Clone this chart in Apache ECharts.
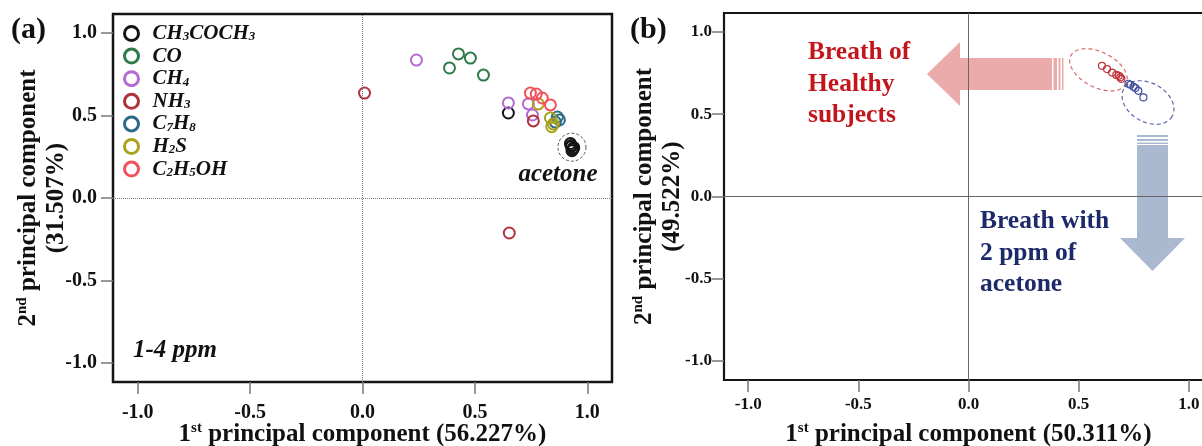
<!DOCTYPE html>
<html><head><meta charset="utf-8">
<script src="https://cdn.jsdelivr.net/npm/echarts@6/dist/echarts.min.js"></script>
<style>html,body{margin:0;padding:0;background:#fff}#c{width:1202px;height:446px}</style>
</head><body><div id="c"></div>
<script>
// ---------- data ----------
const tickValues = [-1.0, -0.5, 0.0, 0.5, 1.0];
const gasNames = ['CH3COCH3', 'CO', 'CH4', 'NH3', 'C7H8', 'H2S', 'C2H5OH'];
const gasLabels = ['CH{s|3}COCH{s|3}', 'CO', 'CH{s|4}', 'NH{s|3}', 'C{s|7}H{s|8}', 'H{s|2}S', 'C{s|2}H{s|5}OH'];
const acetoneCluster = [[0.925, 0.330], [0.930, 0.312], [0.936, 0.296], [0.928, 0.318], [0.940, 0.305], [0.932, 0.287]];
const ch3coch3 = [[0.649, 0.515]].concat(acetoneCluster);
const co = [[0.427, 0.873], [0.387, 0.788], [0.480, 0.848], [0.538, 0.745]];
const ch4 = [[0.240, 0.836], [0.649, 0.576], [0.738, 0.570], [0.756, 0.503]];
const nh3 = [[0.009, 0.636], [0.653, -0.212], [0.760, 0.467]];
const c7h8 = [[0.867, 0.491], [0.876, 0.473], [0.858, 0.460]];
const h2s = [[0.782, 0.570], [0.836, 0.485], [0.849, 0.448], [0.842, 0.432]];
const c2h5oh = [[0.747, 0.636], [0.773, 0.630], [0.800, 0.606], [0.836, 0.564]];
const gasData = [ch3coch3, co, ch4, nh3, c7h8, h2s, c2h5oh];
const gasColors = ['#151515', '#2f7a4a', '#b46ad0', '#b1323f', '#2a6a88', '#a9a21c', '#f2515c'];

const healthy = [[0.606, 0.794], [0.629, 0.774], [0.652, 0.753], [0.671, 0.739], [0.682, 0.733], [0.689, 0.724], [0.694, 0.715]];
const acetone2ppm = [[0.726, 0.685], [0.735, 0.679], [0.749, 0.667], [0.758, 0.659], [0.771, 0.642], [0.794, 0.602]];
// confidence ellipses: [centerX, centerY, semiMajor, semiMinor (x-axis units), tilt deg]
const healthyEllipse = [0.590, 0.770, 0.141, 0.080, 27];
const acetoneEllipse = [0.815, 0.571, 0.126, 0.088, 30];

// ---------- chart ----------
const serif = '"Liberation Serif","Times New Roman",serif';
const chart = echarts.init(document.getElementById('c'));
const clusterCenter = [
  acetoneCluster.reduce((s, p) => s + p[0], 0) / acetoneCluster.length,
  acetoneCluster.reduce((s, p) => s + p[1], 0) / acetoneCluster.length
];

const titleRich = {
  t: { fontFamily: serif, fontWeight: 'bold', fontSize: 25, color: '#111', lineHeight: 28 },
  sup: { fontFamily: serif, fontWeight: 'bold', fontSize: 15, color: '#111', lineHeight: 15, verticalAlign: 'top' }
};

function xAxisCfg(idx, name, fs, margin, gap) {
  return {
    type: 'value', gridIndex: idx, min: -1.11, max: 1.11,
    splitLine: { show: false }, axisLine: { show: false, onZero: false },
    axisTick: { show: true, customValues: tickValues, length: 12, lineStyle: { color: '#777', width: 1.5 } },
    axisLabel: { customValues: tickValues, formatter: v => v.toFixed(1), fontFamily: serif, fontWeight: 'bold', fontSize: fs, color: '#111', margin: margin },
    name: name, nameLocation: 'middle', nameGap: gap, nameMoveOverlap: false,
    nameTextStyle: { rich: titleRich }
  };
}
function yAxisCfg(idx, name, fs, margin, gap) {
  return {
    type: 'value', gridIndex: idx, min: -1.115, max: 1.115,
    splitLine: { show: false }, axisLine: { show: false, onZero: false },
    axisTick: { show: true, customValues: tickValues, length: 12, lineStyle: { color: '#777', width: 1.5 } },
    axisLabel: { customValues: tickValues, formatter: v => v.toFixed(1), fontFamily: serif, fontWeight: 'bold', fontSize: fs, color: '#111', margin: margin },
    name: name, nameLocation: 'middle', nameGap: gap, nameRotate: 90, nameMoveOverlap: false,
    nameTextStyle: { rich: titleRich }
  };
}

const series = gasNames.map((n, i) => ({
  name: n, type: 'scatter', xAxisIndex: 0, yAxisIndex: 0,
  data: gasData[i], symbol: 'circle', symbolSize: 11,
  itemStyle: { color: 'rgba(0,0,0,0)', borderColor: gasColors[i], borderWidth: 2, opacity: 1 },
  emphasis: { disabled: true }
}));
series[0].markLine = {
  silent: true, symbol: 'none', label: { show: false },
  lineStyle: { type: 'dotted', color: '#777', width: 1 },
  data: [{ xAxis: 0 }, { yAxis: 0 }]
};
series.push({
  name: 'cluster', type: 'scatter', xAxisIndex: 0, yAxisIndex: 0,
  data: [clusterCenter], symbol: 'circle', symbolSize: 28,
  itemStyle: { color: 'rgba(0,0,0,0)', borderColor: '#555', borderWidth: 1, borderType: [3, 2], opacity: 1 },
  label: { show: true, position: 'bottom', distance: 0, offset: [-14, 0], formatter: 'acetone',
    fontFamily: serif, fontStyle: 'italic', fontWeight: 'bold', fontSize: 25, color: '#111' },
  emphasis: { disabled: true }
});
series.push({
  name: 'healthy', type: 'scatter', xAxisIndex: 1, yAxisIndex: 1, data: healthy,
  symbol: 'circle', symbolSize: 7,
  itemStyle: { color: 'rgba(0,0,0,0)', borderColor: '#c03038', borderWidth: 1.2, opacity: 1 },
  markLine: { silent: true, symbol: 'none', label: { show: false }, lineStyle: { type: 'solid', color: '#666', width: 1 },
    data: [{ xAxis: 0 }, { yAxis: 0 }] },
  emphasis: { disabled: true }, z: 5
});
series.push({
  name: 'acetone2ppm', type: 'scatter', xAxisIndex: 1, yAxisIndex: 1, data: acetone2ppm,
  symbol: 'circle', symbolSize: 7,
  itemStyle: { color: 'rgba(0,0,0,0)', borderColor: '#3c4e9c', borderWidth: 1.2, opacity: 1 },
  emphasis: { disabled: true }, z: 5
});
series.push({
  name: 'ellipses', type: 'custom', xAxisIndex: 1, yAxisIndex: 1,
  data: [
    { value: healthyEllipse, itemStyle: { color: '#d86a6a' } },
    { value: acetoneEllipse, itemStyle: { color: '#5a66a8' } }
  ],
  renderItem(params, api) {
    const c = api.coord([api.value(0), api.value(1)]);
    const s = api.size([1, 0])[0];
    const a = api.value(2) * s, b = api.value(3) * s, th = api.value(4) * Math.PI / 180;
    const pts = [];
    for (let k = 0; k < 90; k++) {
      const t = k / 90 * 2 * Math.PI;
      pts.push([c[0] + a * Math.cos(t) * Math.cos(th) - b * Math.sin(t) * Math.sin(th),
                c[1] + a * Math.cos(t) * Math.sin(th) + b * Math.sin(t) * Math.cos(th)]);
    }
    return { type: 'polygon', shape: { points: pts }, style: { fill: 'none', stroke: api.visual('color'), lineWidth: 1.2, lineDash: [4, 3] } };
  },
  silent: true, z: 4
});

const pink = 'rgba(230,150,150,0.8)';
const steel = 'rgba(150,168,196,0.8)';

chart.setOption({
  animation: false,
  backgroundColor: '#fff',
  grid: [
    { left: 113, top: 14, width: 499, height: 368, outerBoundsMode: 'none', containLabel: false, show: true, borderColor: '#151515', borderWidth: 2.5, backgroundColor: 'transparent' },
    { left: 724, top: 13, width: 489, height: 367, outerBoundsMode: 'none', containLabel: false, show: true, borderColor: '#151515', borderWidth: 2.2, backgroundColor: 'transparent' }
  ],
  xAxis: [
    xAxisCfg(0, '{t|1}{sup|st}{t| principal component (56.227%)}', 20, 21, 39),
    xAxisCfg(1, '{t|1}{sup|st}{t| principal component (50.311%)}', 17, 16, 41)
  ],
  yAxis: [
    yAxisCfg(0, '{t|2}{sup|nd}{t| principal component}\n{t|(31.507%)}', 20, 16, 42),
    yAxisCfg(1, '{t|2}{sup|nd}{t| principal component}\n{t|(49.522%)}', 17, 12, 37)
  ],
  legend: {
    data: gasNames, orient: 'vertical', left: 123, top: 23, padding: 0,
    itemGap: 1.6, itemWidth: 14, itemHeight: 14, icon: 'circle',
    itemStyle: { color: 'rgba(0,0,0,0)', borderWidth: 3 },
    selectedMode: false,
    formatter: name => gasLabels[gasNames.indexOf(name)],
    textStyle: {
      padding: [0, 0, 0, 9],
      rich: {
        s: { fontFamily: serif, fontStyle: 'italic', fontWeight: 'bold', fontSize: 13, color: '#111', lineHeight: 12, verticalAlign: 'bottom' }
      },
      fontFamily: serif, fontStyle: 'italic', fontWeight: 'bold', fontSize: 21, color: '#111', lineHeight: 20
    }
  },
  series: series,
  graphic: [
    { type: 'text', left: 11, top: 15, style: { text: '(a)', font: 'bold 30px ' + serif, fill: '#111' } },
    { type: 'text', left: 630, top: 15, style: { text: '(b)', font: 'bold 30px ' + serif, fill: '#111' } },
    { type: 'text', left: 133, top: 338, style: { text: '1-4 ppm', font: 'italic bold 25px ' + serif, fill: '#111' } },
    { type: 'polygon', z: 1, shape: { points: [[927, 74], [960, 42], [960, 58], [1052, 58], [1052, 90], [960, 90], [960, 106]] }, style: { fill: pink } },
    { type: 'rect', z: 1, shape: { x: 1053.5, y: 58, width: 3.5, height: 32 }, style: { fill: pink } },
    { type: 'rect', z: 1, shape: { x: 1058.5, y: 58, width: 2, height: 32 }, style: { fill: pink } },
    { type: 'rect', z: 1, shape: { x: 1062, y: 58, width: 1.5, height: 32 }, style: { fill: pink } },
    { type: 'polygon', z: 1, shape: { points: [[1137, 145], [1168, 145], [1168, 238], [1185, 238], [1152.5, 271], [1120, 238], [1137, 238]] }, style: { fill: steel } },
    { type: 'rect', z: 1, shape: { x: 1137, y: 135, width: 31, height: 2 }, style: { fill: steel } },
    { type: 'rect', z: 1, shape: { x: 1137, y: 139, width: 31, height: 2 }, style: { fill: steel } },
    { type: 'rect', z: 1, shape: { x: 1137, y: 142.5, width: 31, height: 1.5 }, style: { fill: steel } },
    { type: 'text', left: 808, top: 37, z: 10, style: { text: 'Breath of\nHealthy\nsubjects', font: 'bold 25.5px ' + serif, lineHeight: 31.5, fill: '#c3161c' } },
    { type: 'text', left: 980, top: 206, z: 10, style: { text: 'Breath with\n2 ppm of\nacetone', font: 'bold 25.5px ' + serif, lineHeight: 31.5, fill: '#1c2a6a' } }
  ]
});
</script>
</body></html>
